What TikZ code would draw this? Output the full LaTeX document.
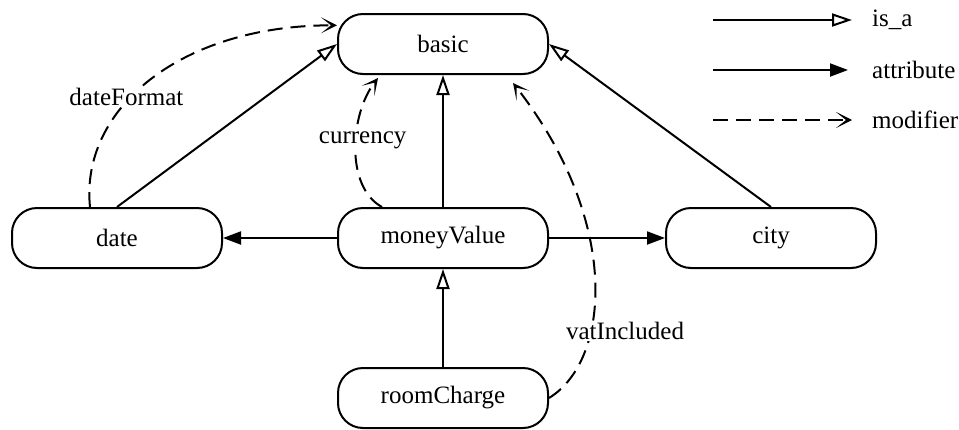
\documentclass[tikz,border=0pt]{standalone}
\usepackage{fontspec}
\setmainfont{Liberation Serif}
\usetikzlibrary{arrows.meta}

\tikzset{
  concept/.style={draw, line width=2pt, rounded corners=25pt,
    minimum width=210pt, minimum height=60pt,
    font=\fontsize{25}{28}\selectfont},
  isa/.style={line width=2pt, -{Triangle[open,length=20pt,width=13pt]}},
  attr/.style={line width=2pt, -{Triangle[length=18pt,width=13pt]}},
  modif/.style={line width=2pt, dash pattern=on 15pt off 8pt,
    -{Stealth[length=16pt,width=16pt,inset=10pt]}},
  lbl/.style={fill=white, inner sep=1pt, font=\fontsize{25}{28}\selectfont},
  key/.style={anchor=west, inner sep=0pt, font=\fontsize{25}{28}\selectfont}
}

\begin{document}
\begin{tikzpicture}[x=1pt,y=-1pt]
\useasboundingbox (0,0) rectangle (959,429);

% concepts
\node[concept] (basic) at (443,44) {basic};
\node[concept] (date) at (117,238) {date};
\node[concept] (moneyValue) at (443,238) {moneyValue};
\node[concept] (city) at (771,238) {city};
\node[concept] (roomCharge) at (443,398) {roomCharge};

% is_a
\draw[isa] (date.north) -- (basic.west);
\draw[isa] (moneyValue.north) -- (basic.south);
\draw[isa] (city.north) -- (basic.east);
\draw[isa] (roomCharge.north) -- (moneyValue.south);

% attributes
\draw[attr] (moneyValue.west) -- (date.east);
\draw[attr] (moneyValue.east) -- (city.west);

% modifiers
\draw[modif] ([xshift=-27pt]date.north) .. controls +(-10,-97) and +(-158,0) .. (basic.170)
  node[lbl,pos=0.42,xshift=-5pt] (dateFormat) {dateFormat};
\draw[modif] ([xshift=-61pt]moneyValue.north) .. controls +(-37,-20) and +(-28,36) .. ([xshift=-65pt,yshift=-3pt]basic.south)
  node[lbl,pos=0.5,xshift=7pt,yshift=8pt] (currency) {currency};
\draw[modif] (roomCharge.east) .. controls +(62,-38) and +(108,138) .. ([xshift=-36pt,yshift=-8pt]basic.south east)
  node[lbl,pos=0.33,xshift=34pt] (vatIncluded) {vatIncluded};

% legend
\coordinate (isaA) at (713,20);
\coordinate (isaB) at (852,20);
\coordinate (attrA) at (713,70);
\coordinate (attrB) at (848,70);
\coordinate (modA) at (713,120);
\coordinate (modB) at (852,120);
\draw[isa] (isaA) -- (isaB);
\draw[attr] (attrA) -- (attrB);
\draw[modif] (modA) -- (modB);
\node[key] (isaKey) at (872,20) {is\_a};
\node[key] (attrKey) at (872,70) {attribute};
\node[key] (modKey) at (872,120) {modifier};
\end{tikzpicture}
\end{document}
